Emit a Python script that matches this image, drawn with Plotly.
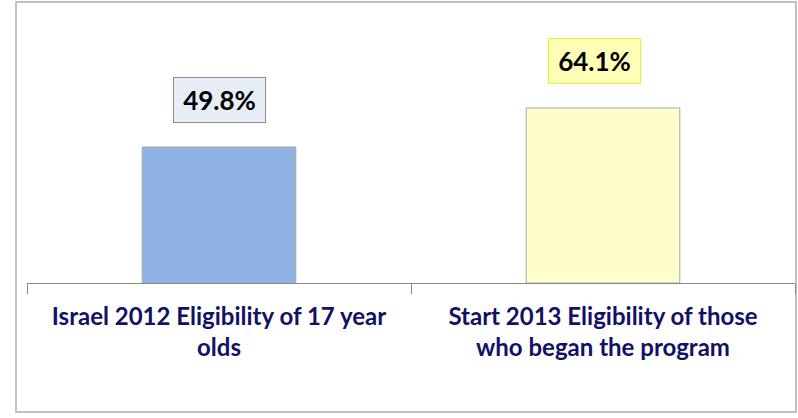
import plotly.graph_objects as go

categories = ["Israel 2012 Eligibility of 17 year olds",
              "Start 2013 Eligibility of those who began the program"]
tick_labels = ["<b>Israel 2012 Eligibility of 17 year<br>olds</b>",
               "<b>Start 2013 Eligibility of those<br>who began the program</b>"]
values = [49.8, 64.1]
value_labels = ["49.8%", "64.1%"]

bar_colors = ["#8EB4E3", "#FFFFCC"]
box_bg = ["#E6EDF7", "#FFFFB8"]
box_border = ["#8C8C8C", "#CCFF33"]
box_xshift = [0, -9]

fig = go.Figure()
fig.add_trace(go.Bar(
    x=categories, y=values, width=0.4,
    marker=dict(color=bar_colors, line=dict(color="#A6A6A6", width=1)),
    hoverinfo="skip",
))

for c, v, t, bg, bc, xs in zip(categories, values, value_labels, box_bg, box_border, box_xshift):
    fig.add_annotation(
        x=c, y=v, text="<b>%s</b>" % t, showarrow=False,
        yanchor="bottom", yshift=24, xshift=xs,
        width=89, height=42,
        bgcolor=bg, bordercolor=bc, borderwidth=1,
        font=dict(family="Lato, 'Open Sans', sans-serif", size=26, color="#000000"),
    )

fig.add_shape(type="rect", xref="paper", yref="paper",
              x0=-11/768, x1=1+1/768, y0=-129/263, y1=1+18/263,
              line=dict(color="#C0C0C0", width=2), fillcolor="rgba(0,0,0,0)", layer="below")

fig.update_layout(
    width=798, height=418,
    margin=dict(l=27, r=3, t=20, b=135),
    paper_bgcolor="white", plot_bgcolor="white",
    showlegend=False,
    bargap=0.6,
    xaxis=dict(
        type="category", tickmode="array", tickvals=categories, ticktext=tick_labels,
        tickson="boundaries", ticks="outside", ticklen=10, tickcolor="#888888",
        ticklabelstandoff=12,
        showline=True, linecolor="#888888", linewidth=1,
        showgrid=False, zeroline=False,
        tickfont=dict(family="Lato, 'Open Sans', sans-serif", size=24, color="#111166"),
    ),
    yaxis=dict(range=[0, 96.3], visible=False, showgrid=False, zeroline=False),
    font=dict(family="Lato, 'Open Sans', sans-serif"),
)
fig.update_xaxes(tickangle=0)

fig.write_html("out.html", config={"displayModeBar": False},
               post_script="document.body.style.margin='0';")
